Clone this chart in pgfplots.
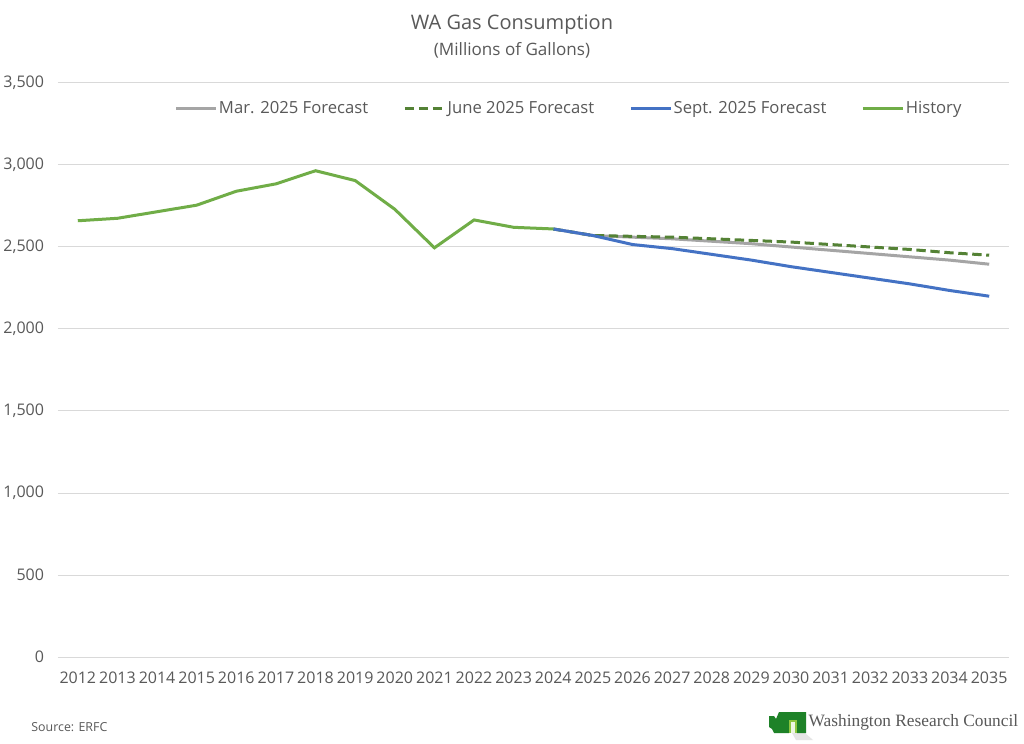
\documentclass[border=0pt]{standalone}
\usepackage{pgfplots}
\pgfplotsset{compat=1.18}
\usepackage{fontspec}
\setmainfont{Open Sans}
\newfontfamily\logofont{Liberation Serif}
\definecolor{txtgray}{RGB}{89,89,89}
\definecolor{gridgray}{RGB}{217,217,217}
\definecolor{margray}{RGB}{165,165,165}
\definecolor{junegreen}{RGB}{84,130,53}
\definecolor{septblue}{RGB}{68,114,196}
\definecolor{histgreen}{RGB}{112,173,71}
\definecolor{logogreen}{RGB}{30,130,40}
\definecolor{logolight}{RGB}{141,198,63}

\begin{document}
\begin{tikzpicture}
\useasboundingbox[fill=white] (0pt,0pt) rectangle (768pt,557.25pt);

% title
\node[font=\fontsize{15}{18}\selectfont, text=txtgray] at (384pt,539pt) {WA Gas Consumption};
\node[font=\fontsize{12.8}{15}\selectfont, text=txtgray] at (384pt,519.5pt) {(Millions of Gallons)};

\begin{axis}[
    at={(43.5pt,64.5pt)}, anchor=south west,
    scale only axis,
    width=713.25pt, height=430.5pt,
    xmin=2011.5, xmax=2035.5,
    ymin=0, ymax=3500,
    xtick={2012,...,2035},
    ytick={0,500,...,3500},
    axis line style={draw=none},
    major tick length=0pt,
    ymajorgrids=true,
    grid style={gridgray, line width=0.75pt},
    tick label style={font=\fontsize{12}{14}\selectfont, text=txtgray},
    /pgf/number format/assume math mode=true,
    x tick label style={/pgf/number format/1000 sep={}, yshift=-7.5pt},
    y tick label style={/pgf/number format/1000 sep={,}, xshift=-7pt},
    legend style={at={(0.537,0.955)}, anchor=center, draw=none, fill=none,
        font=\fontsize{12.5}{15}\selectfont, text=txtgray,
        nodes={inner xsep=1pt},
        /tikz/every even column/.append style={column sep=25.3pt}},
    legend columns=4,
    legend cell align=left,
    legend image code/.code={\draw[#1] (0pt,0pt) -- (30pt,0pt);},
]

\addplot[margray, line width=2.25pt, no marks] coordinates {
(2024,2610)(2025,2570)(2026,2560)(2027,2550)(2028,2535)(2029,2520)
(2030,2500)(2031,2480)(2032,2460)(2033,2440)(2034,2420)(2035,2395)
};
\addlegendentry{Mar. 2025 Forecast}

\addplot[junegreen, line width=2.25pt, no marks, dash pattern=on 7pt off 3.5pt] coordinates {
(2024,2610)(2025,2570)(2026,2565)(2027,2560)(2028,2550)(2029,2540)
(2030,2530)(2031,2515)(2032,2500)(2033,2485)(2034,2465)(2035,2450)
};
\addlegendentry{June 2025 Forecast}

\addplot[septblue, line width=2.25pt, no marks] coordinates {
(2024,2610)(2025,2570)(2026,2515)(2027,2490)(2028,2455)(2029,2420)
(2030,2380)(2031,2345)(2032,2310)(2033,2275)(2034,2235)(2035,2200)
};
\addlegendentry{Sept. 2025 Forecast}

\addplot[histgreen, line width=2.25pt, no marks] coordinates {
(2012,2660)(2013,2675)(2014,2715)(2015,2755)(2016,2840)(2017,2885)
(2018,2965)(2019,2905)(2020,2730)(2021,2495)(2022,2665)(2023,2620)
(2024,2610)
};
\addlegendentry{History}

\end{axis}

% source
\node[anchor=west, font=\fontsize{9.3}{11}\selectfont, text=txtgray] at (20pt,12pt) {Source: ERFC};

% logo
\begin{scope}[x=0.75pt,y=0.75pt]
\fill[gray!20] (792,10) -- (805,10) -- (813,3) -- (796,3) -- cycle;
\fill[logogreen] (769,27) -- (774,27) -- (776,24) -- (779,31) -- (806,31) -- (806,10) -- (797,10) -- (797,23) -- (789,23) -- (789,10) -- (774,10) -- (772,14) -- (769,16) -- cycle;
\fill[logolight] (789,23) rectangle (797,10);
\fill[white!85!logolight] (791,21) rectangle (795,10);
\node[anchor=west, font=\logofont\fontsize{13}{15}\selectfont, text=black!65] at (804,21) {Washington Research Council};
\end{scope}
\end{tikzpicture}
\end{document}
